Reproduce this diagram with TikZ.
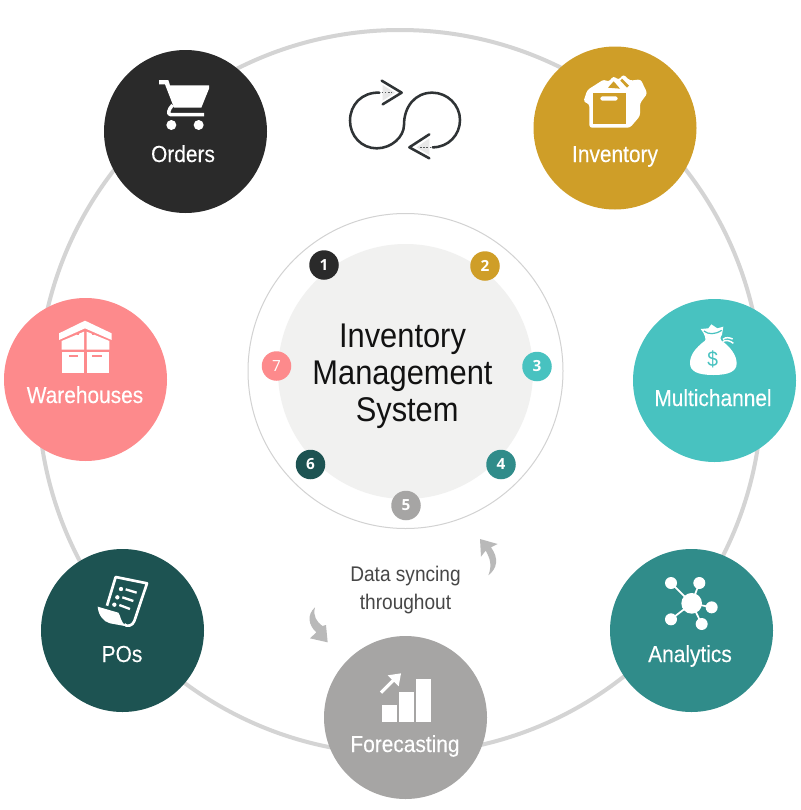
\documentclass[tikz,border=0pt]{standalone}
\usepackage{fontspec}
\setmainfont[FakeStretch=0.9]{Liberation Sans}
\newfontfamily\labelfont[FakeStretch=0.9,FakeBold=0.25]{Liberation Sans}
\newfontfamily\numfont{Open Sans}
\definecolor{cdark}{HTML}{2A2A2A}
\definecolor{cgold}{HTML}{CF9E28}
\definecolor{cteal}{HTML}{48C2C0}
\definecolor{cgreen}{HTML}{308C8A}
\definecolor{cgrey}{HTML}{A6A5A4}
\definecolor{cpine}{HTML}{1D5352}
\definecolor{cpink}{HTML}{FD8A8C}
\definecolor{cring}{HTML}{D4D4D4}
\definecolor{cthin}{HTML}{D2D2D2}
\definecolor{ccore}{HTML}{F1F1F0}
\definecolor{carrow}{HTML}{B9B9B9}
\definecolor{cloop}{HTML}{2F3335}
\tikzset{
  hub/.style={circle,draw=none,minimum size=163*0.75pt,inner sep=0pt},
  dot/.style={circle,draw=none,minimum size=29.5*0.75pt,inner sep=0pt,text=white,font=\numfont\bfseries\fontsize{11.5pt}{12pt}\selectfont},
  hublabel/.style={text=white,inner sep=0pt,anchor=base,font=\labelfont\fontsize{17.4pt}{18pt}\selectfont},
  icon/.style={shift={#1},x=0.25pt,y=-0.25pt},
}
\begin{document}
\begin{tikzpicture}[x=0.75pt,y=-0.75pt]
\useasboundingbox (0,0) rectangle (800,810);
\fill[white] (0,0) rectangle (800,810);
% outer ring
\draw[cring,line width=3pt] (400,392) circle[radius=362];
% centre
\draw[cthin,line width=0.75pt] (405.5,371) circle[radius=157.5];
\node[circle,fill=ccore,minimum size=255*0.75pt,inner sep=0pt] (core) at (405.5,371.5) {};
\node[align=center,text=black!93,inner sep=0pt,font=\fontsize{25.7pt}{27.6pt}\selectfont] (title) at (402.5,376) {Inventory\\Management\\\hspace{7pt}System};
% small numbered dots
\node[dot,fill=cdark] (d1) at (324,265) {1};
\node[dot,fill=cgold] (d2) at (485,266) {2};
\node[dot,fill=cteal] (d3) at (537,366.5) {3};
\node[dot,fill=cgreen] (d4) at (501,464.5) {4};
\node[dot,fill=cgrey] (d5) at (406,505.5) {5};
\node[dot,fill=cpine] (d6) at (310.5,464.5) {6};
\node[dot,fill=cpink] (d7) at (276.5,366) {\normalfont\numfont 7};
% hubs
\node[hub,fill=cdark] (orders) at (185.5,131.5) {};
\node[hub,fill=cgold] (inventory) at (615,128) {};
\node[hub,fill=cteal] (multi) at (714.5,380.5) {};
\node[hub,fill=cgreen] (analytics) at (691.5,630.5) {};
\node[hub,fill=cgrey] (forecast) at (405.5,717.5) {};
\node[hub,fill=cpine] (pos) at (122.5,630.5) {};
\node[hub,fill=cpink] (ware) at (85.5,379.5) {};
\node[hublabel] (lorders) at (183,162) {Orders};
\node[hublabel] (linv) at (615,162) {Inventory};
\node[hublabel] (lmulti) at (713,406) {Multichannel};
\node[hublabel] (lana) at (690,662) {Analytics};
\node[hublabel] (lfor) at (405,752) {Forecasting};
\node[hublabel] (lpos) at (122,662) {POs};
\node[hublabel] (lware) at (85,403) {Warehouses};
% data syncing
\node[align=center,text=black!72,inner sep=0pt,font=\fontsize{15.9pt}{21pt}\selectfont] (sync) at (405.5,590) {Data syncing\\throughout};
% curved arrows
\begin{scope}[icon={(300,530)}]
\fill[carrow] (540,27) -- (593,42) -- (573,52) .. controls (597,85) and (592,115) .. (565,136) .. controls (577,105) and (570,85) .. (557,62) -- (543,80) -- cycle;
\fill[carrow] (83,337) -- (30,325) -- (49,307) .. controls (25,285) and (20,255) .. (45,232) .. controls (38,258) and (50,275) .. (67,288) -- (78,285) -- cycle;
% forecasting icon
\fill[white] (245,525) rectangle (290,575);
\fill[white] (297,487) rectangle (342,575);
\fill[white] (348,448) rectangle (393,575);
\draw[white,line width=2.4pt] (243,488) -- (282,449);
\fill[white] (303,430) -- (263,436) -- (296,469) -- cycle;
\end{scope}
% loop icon
\begin{scope}[icon={(340,70)}]
\fill[black!9] (128,45) -- (165,68) -- (128,92) -- cycle;
\fill[black!9] (268,205) -- (230,232) -- (268,255) -- cycle;
\draw[cloop,line width=1.9pt,line cap=round,line join=round]
 (118,68) .. controls (65,66) and (30,105) .. (30,152) .. controls (30,198) and (65,235) .. (110,235)
 .. controls (155,235) and (192,200) .. (192,165) .. controls (192,110) and (225,68) .. (277,68)
 .. controls (322,68) and (360,105) .. (360,150) .. controls (360,195) and (325,232) .. (278,232);
\draw[cloop,line width=1.9pt,line cap=round,line join=round] (125,32) -- (185,68) -- (128,103);
\draw[cloop,line width=1.9pt,line cap=round,line join=round] (268,193) -- (208,232) -- (268,265);
\draw[cloop!80,line width=1.2pt,dash pattern=on 1.2pt off 1.2pt] (125,68) -- (155,68);
\draw[cloop!80,line width=1.2pt,dash pattern=on 1.2pt off 1.2pt] (240,232) -- (270,232);
\end{scope}
% cart
\begin{scope}[icon={(100,40)}]
\fill[white] (177,120) -- (205,120) -- (210,136) -- (327,136) -- (327,146) -- (304,203) -- (222,203) -- (195,133) -- (177,133) -- cycle;
\draw[white,line width=2.6pt,line join=round] (218,195) .. controls (205,208) and (202,224) .. (212,224) -- (312,224);
\fill[white] (214,255) circle[radius=15];
\fill[white] (296,255) circle[radius=15];
\end{scope}
% box
\begin{scope}[icon={(530,40)}]
\fill[white,rounded corners=2pt] (160,185) -- (172,150) -- (222,118) -- (236,126) -- (250,108) -- (266,120) -- (280,103) -- (300,122) -- (332,118) -- (352,160) -- (330,190) -- (330,228) -- (300,263) -- (178,263) -- (178,192) -- cycle;
\fill[cgold] (190,160) rectangle (287,251);
\fill[cgold] (234,143) -- (251,124) -- (270,146) -- cycle;
\fill[cgold] (271,122) -- (276,116) -- (297,137) -- (291,143) -- cycle;
\fill[white,rounded corners=1.2pt] (211,169) rectangle (263,182);
\end{scope}
% money bag
\begin{scope}[icon={(640,300)}]
\fill[white] (195,122) .. controls (165,145) and (150,165) .. (150,190) .. controls (150,215) and (175,225) .. (220,225) .. controls (265,225) and (290,215) .. (290,190) .. controls (290,165) and (270,140) .. (245,122) -- cycle;
\fill[white] (182,87) -- (205,85) -- (214,73) -- (232,85) -- (250,80) -- (246,104) .. controls (240,112) and (240,118) .. (245,125) -- (195,125) .. controls (198,115) and (196,105) .. cycle;
\draw[cteal,line width=0.9pt] (192,93) .. controls (205,104) and (225,104) .. (245,91);
\draw[white,line width=1.1pt] (249,118) .. controls (258,110) and (268,113) .. (278,117);
\draw[white,line width=1.1pt] (249,124) .. controls (260,119) and (270,122) .. (280,130);
\node[text=cteal,inner sep=0pt,font=\fontsize{16pt}{17pt}\selectfont] (dollar) at (218,177) {\$};
\end{scope}
% analytics
\begin{scope}[icon={(640,565)}]
\coordinate (hubc) at (155,115);
\foreach \px/\py/\pr in {93/54/18,178/54/18,215/127/18,93/163/18,185/177/18}{
  \draw[white,line width=1.3pt] (hubc) -- (\px,\py);
  \fill[white] (\px,\py) circle[radius=\pr];
}
\fill[white] (hubc) circle[radius=31];
\end{scope}
% warehouse
\begin{scope}[icon={(40,310)}]
\fill[white] (57,70) -- (135,32) -- (215,70) -- (215,90) -- (135,55) -- (57,90) -- cycle;
\fill[white] (65,93) -- (132,65) -- (132,119) -- (65,119) -- cycle;
\fill[white] (140,65) -- (208,93) -- (208,119) -- (140,119) -- cycle;
\fill[white] (65,125) rectangle (132,190);
\fill[white] (140,125) rectangle (208,190);
\fill[cpink] (87,134) rectangle (115,140);
\fill[cpink] (157,134) rectangle (185,140);
\fill[cpink] (112,70) rectangle (118,76);
\fill[cpink] (155,70) rectangle (161,76);
\end{scope}
% purchase order
\begin{scope}[icon={(85,565)}]
\draw[white,line width=2pt,line join=round] (66,122) -- (92,36) -- (186,55) -- (148,168) .. controls (143,183) and (125,186) .. (118,178);
\fill[white] (38,125) -- (100,143) .. controls (108,152) and (104,170) .. (125,184) -- (75,175) .. controls (55,170) and (40,150) .. cycle;
\fill[white] (108,72) circle[radius=6.5];
\fill[white] (97,97) circle[radius=6.5];
\fill[white] (88,119) circle[radius=6.5];
\draw[white,line width=1.75pt] (122,73) -- (155,83);
\draw[white,line width=1.75pt] (112,97) -- (145,108);
\draw[white,line width=1.75pt] (103,120) -- (135,132);
\end{scope}
\end{tikzpicture}
\end{document}
